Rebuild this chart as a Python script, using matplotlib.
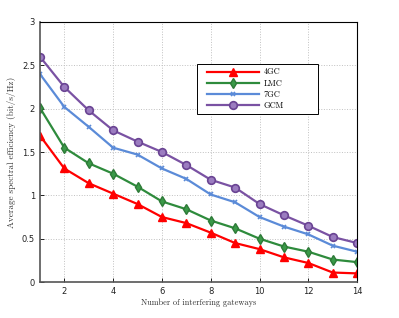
import matplotlib
matplotlib.use("Agg")
import matplotlib.pyplot as plt
from matplotlib.legend_handler import HandlerLine2D
from matplotlib.lines import Line2D

# number of interfering gateways
gateways = list(range(1, 15))

# average spectral efficiency (bit/s/Hz)
gc4 = [1.69, 1.31, 1.14, 1.02, 0.90, 0.75, 0.68, 0.57, 0.45, 0.38, 0.285, 0.22, 0.11, 0.10]
lmc = [2.01, 1.55, 1.37, 1.25, 1.10, 0.93, 0.84, 0.71, 0.62, 0.50, 0.41, 0.35, 0.26, 0.23]
gc7 = [2.40, 2.02, 1.79, 1.55, 1.47, 1.31, 1.19, 1.01, 0.92, 0.75, 0.64, 0.55, 0.42, 0.35]
gcm = [2.60, 2.25, 1.98, 1.75, 1.62, 1.50, 1.35, 1.18, 1.09, 0.90, 0.77, 0.65, 0.52, 0.45]

labels = ["4GC", "LMC", "7GC", "GCM"]


# legend line handle shifted right a little (matlab style padding)
class ShiftedLine(HandlerLine2D):
    shift = 4.7

    def create_artists(self, legend, orig_handle, xdescent, ydescent,
                       width, height, fontsize, trans):
        return super().create_artists(legend, orig_handle,
                                      xdescent - self.shift, ydescent,
                                      width - self.shift, height,
                                      fontsize, trans)


fig = plt.figure(figsize=(3.99, 3.18), dpi=100)
ax = fig.add_axes([0.1, 0.113, 0.795, 0.818])

ax.plot(gateways, gc4, color="#ff0000", lw=1.6, marker="^", ms=6,
        mfc="#ff0000", mec="#ff0000", label=labels[0])
ax.plot(gateways, lmc, color="#2e8b3c", lw=1.6, marker="d", ms=5.5,
        mfc="#3a9a48", mec="#2e7a38", label=labels[1])
ax.plot(gateways, gc7, color="#5b8bd8", lw=1.6, marker="x", ms=3,
        mew=1.2, label=labels[2])
ax.plot(gateways, gcm, color="#7a52a3", lw=1.6, marker="o", ms=5.5,
        mfc="#9b7cc0", mec="#6a4493", mew=1.2, label=labels[3])

ax.set_xlim(1, 14)
ax.set_ylim(0, 3)
ax.set_xticks([2, 4, 6, 8, 10, 12, 14])
ax.set_yticks([0, 0.5, 1, 1.5, 2, 2.5, 3])
ax.set_yticklabels(["0", "0.5", "1", "1.5", "2", "2.5", "3"])
ax.tick_params(direction="in", labelsize=6, length=3, width=0.6,
               labelcolor="#222222")
ax.grid(True, linestyle=":", color="#c0c0c0", linewidth=0.7)
for s in ax.spines.values():
    s.set_linewidth(0.8)
ax.spines["left"].set_color("#555555")
ax.spines["bottom"].set_color("#555555")
ax.spines["left"].set_linewidth(1.2)
ax.spines["bottom"].set_linewidth(1.2)

ax.set_xlabel("Number of interfering gateways", family="cmr10",
              fontsize=6, color="#333333", labelpad=2)
ax.set_ylabel("Average spectral efficiency (bit/s/Hz)", family="cmr10",
              fontsize=6.6, color="#333333", labelpad=4)

leg = ax.legend(loc="upper left", bbox_to_anchor=(0.494, 0.645, 0.384, 0.192),
                mode="expand", prop={"family": "cmr10", "size": 6},
                fancybox=False, edgecolor="black", framealpha=1,
                handlelength=7.0, handletextpad=0.6, borderpad=0.45,
                labelspacing=0.33, borderaxespad=0,
                handler_map={Line2D: ShiftedLine()})
leg.get_frame().set_linewidth(0.7)

fig.savefig("out.png", dpi=100)
